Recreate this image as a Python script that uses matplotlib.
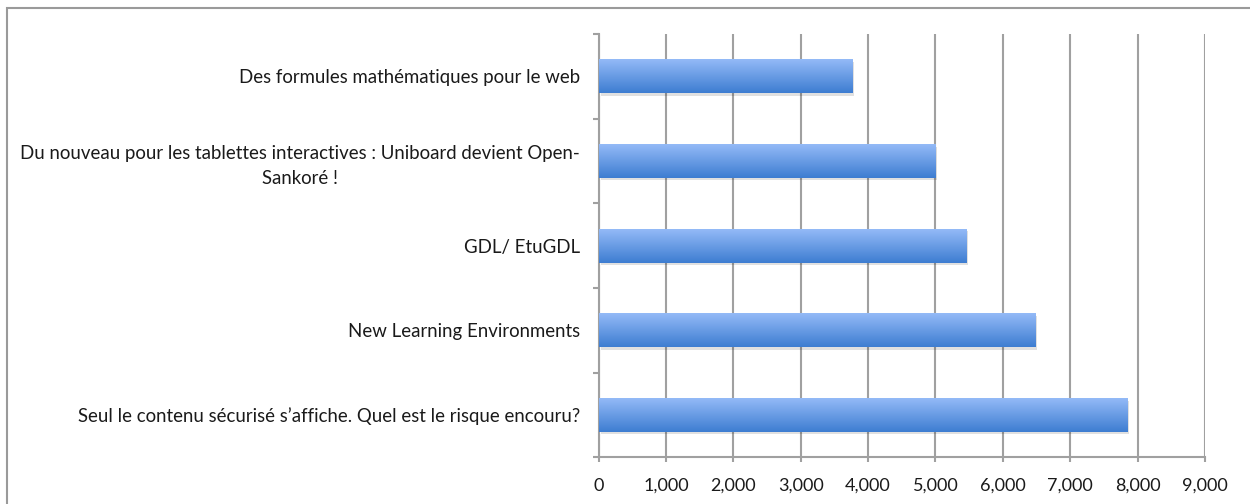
import matplotlib
matplotlib.use("Agg")
import matplotlib.pyplot as plt
import numpy as np
from matplotlib.ticker import FuncFormatter, FixedLocator
from matplotlib.patches import Rectangle

categories = [
    "Des formules mathématiques pour le web",
    "Du nouveau pour les tablettes interactives : Uniboard devient Open-\nSankoré !",
    "GDL/ EtuGDL",
    "New Learning Environments",
    "Seul le contenu sécurisé s\u2019affiche. Quel est le risque encouru?",
]
values = [3760, 5000, 5450, 6470, 7840]
xticks = [0, 1000, 2000, 3000, 4000, 5000, 6000, 7000, 8000, 9000]

plt.rcParams['font.family'] = ['Lato', 'DejaVu Sans']

W, H = 1250, 504
fig = plt.figure(figsize=(W / 100, H / 100), dpi=100)
fig.patch.set_facecolor("white")

# outer frame (left and top edges visible)
fig.add_artist(Rectangle((7 / W, -0.1), 1.2, (H - 8) / H + 0.1, transform=fig.transFigure,
                         fill=False, edgecolor="#9a9a9a", linewidth=1.5))

ax = fig.add_axes([598.5 / W, (H - 457.3) / H, (1205 - 598.5) / W, (457.3 - 34) / H])
ypos = np.arange(len(categories))

bars = ax.barh(ypos, values, height=0.4, color="none", edgecolor="none", zorder=3)

grad = np.linspace(0, 1, 256).reshape(-1, 1)
top = np.array([0.58, 0.73, 0.97])
bot = np.array([0.24, 0.49, 0.82])
img = top[None, None, :] * (1 - grad[:, :, None]) + bot[None, None, :] * grad[:, :, None]
for b in bars:
    x0, y0 = b.get_x(), b.get_y()
    w, h = b.get_width(), b.get_height()
    sh = Rectangle((x0 + 30, y0 + 0.03), w, h, facecolor="#000000", alpha=0.12,
                   edgecolor="none", zorder=2)
    ax.add_patch(sh)
    im = ax.imshow(img, extent=(x0, x0 + w, y0 + h, y0), aspect="auto", zorder=3,
                   interpolation="bilinear")
    im.set_clip_path(b)
ax.set_ylim(len(categories) - 0.5, -0.5)
ax.set_xlim(xticks[0], xticks[-1])

ax.set_xticks(xticks)
ax.xaxis.set_major_formatter(FuncFormatter(lambda v, p: f"{int(v):,}"))
ax.grid(axis="x", color="#a0a0a0", linewidth=1.5, zorder=0)
ax.set_axisbelow(True)

ax.set_yticks(ypos)
ax.set_yticklabels(categories, multialignment="center", linespacing=1.55)
ax.yaxis.set_minor_locator(FixedLocator(np.arange(-0.5, len(categories), 1.0)))
ax.tick_params(axis="y", which="major", length=0, pad=13.5, labelsize=13.4, labelcolor="#1a1a1a")
ax.tick_params(axis="y", which="minor", length=4.3, width=1.5, color="#a0a0a0")
ax.tick_params(axis="x", which="major", length=3.6, width=1.5, color="#a0a0a0", pad=11,
               labelsize=13, labelcolor="#1a1a1a")

for s in ["top", "right"]:
    ax.spines[s].set_visible(False)
for s in ["left", "bottom"]:
    ax.spines[s].set_color("#a0a0a0")
    ax.spines[s].set_linewidth(1.5)

fig.savefig("out.png", dpi=100, facecolor="white")
